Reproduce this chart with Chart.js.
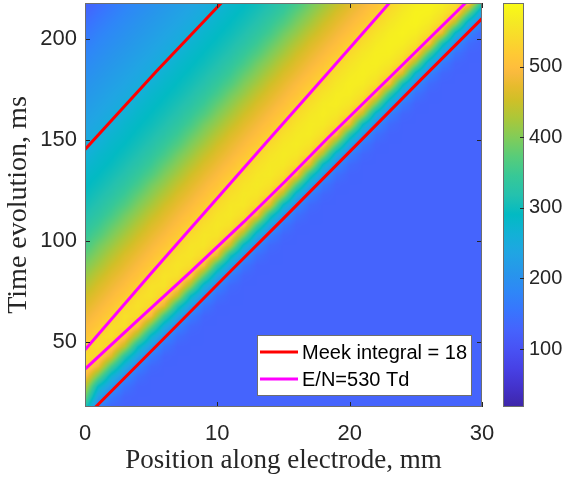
<!DOCTYPE html>
<html>
<head>
<meta charset="utf-8">
<script src="https://cdn.jsdelivr.net/npm/chart.js@4.4.1/dist/chart.umd.min.js"></script>
<style>
  html, body { margin: 0; padding: 0; background: #fff; }
  canvas { display: block; }
</style>
</head>
<body>
<canvas id="fieldChart" width="566" height="480"></canvas>
<script>
// Colour map grid: one row per time, one value (Td) per position
const positionsMm = [0, 1, 2, 3, 4, 5, 6, 7, 8, 9, 10, 11, 12, 13, 14, 15, 16, 17, 18, 19, 20, 21, 22, 23, 24, 25, 26, 27, 28, 29, 30];
const timesMs = [18, 23, 28, 33, 38, 43, 48, 53, 58, 63, 68, 73, 78, 83, 88, 93, 98, 103, 108, 113, 118,
                 123, 128, 133, 138, 143, 148, 153, 158, 163, 168, 173, 178, 183, 188, 193, 198, 203, 208, 213, 218];
const fieldTd = [
  [320, 175, 134, 128, 128, 128, 128, 128, 128, 128, 128, 128, 128, 128, 128, 128, 128, 128, 128, 128, 128, 128, 128, 128, 128, 128, 128, 128, 128, 128, 128],
  [390, 228, 162, 131, 128, 128, 128, 128, 128, 128, 128, 128, 128, 128, 128, 128, 128, 128, 128, 128, 128, 128, 128, 128, 128, 128, 128, 128, 128, 128, 128],
  [445, 286, 211, 151, 129, 128, 128, 128, 128, 128, 128, 128, 128, 128, 128, 128, 128, 128, 128, 128, 128, 128, 128, 128, 128, 128, 128, 128, 128, 128, 128],
  [500, 385, 265, 193, 142, 128, 128, 128, 128, 128, 128, 128, 128, 128, 128, 128, 128, 128, 128, 128, 128, 128, 128, 128, 128, 128, 128, 128, 128, 128, 128],
  [540, 481, 355, 250, 177, 135, 128, 128, 128, 128, 128, 128, 128, 128, 128, 128, 128, 128, 128, 128, 128, 128, 128, 128, 128, 128, 128, 128, 128, 128, 128],
  [545, 531, 461, 327, 232, 163, 131, 128, 128, 128, 128, 128, 128, 128, 128, 128, 128, 128, 128, 128, 128, 128, 128, 128, 128, 128, 128, 128, 128, 128, 128],
  [524, 549, 522, 440, 300, 215, 152, 129, 128, 128, 128, 128, 128, 128, 128, 128, 128, 128, 128, 128, 128, 128, 128, 128, 128, 128, 128, 128, 128, 128, 128],
  [507, 535, 549, 512, 410, 279, 196, 143, 129, 128, 128, 128, 128, 128, 128, 128, 128, 128, 128, 128, 128, 128, 128, 128, 128, 128, 128, 128, 128, 128, 128],
  [494, 515, 544, 547, 500, 380, 257, 180, 136, 128, 128, 128, 128, 128, 128, 128, 128, 128, 128, 128, 128, 128, 128, 128, 128, 128, 128, 128, 128, 128, 128],
  [481, 500, 524, 550, 542, 488, 350, 240, 165, 131, 128, 128, 128, 128, 128, 128, 128, 128, 128, 128, 128, 128, 128, 128, 128, 128, 128, 128, 128, 128, 128],
  [467, 487, 508, 535, 552, 536, 470, 322, 220, 153, 129, 128, 128, 128, 128, 128, 128, 128, 128, 128, 128, 128, 128, 128, 128, 128, 128, 128, 128, 128, 128],
  [452, 474, 494, 515, 543, 554, 531, 445, 293, 200, 144, 129, 128, 128, 128, 128, 128, 128, 128, 128, 128, 128, 128, 128, 128, 128, 128, 128, 128, 128, 128],
  [433, 460, 481, 500, 525, 551, 553, 520, 415, 265, 181, 136, 128, 128, 128, 128, 128, 128, 128, 128, 128, 128, 128, 128, 128, 128, 128, 128, 128, 128, 128],
  [414, 443, 468, 487, 507, 535, 555, 550, 510, 380, 245, 166, 132, 128, 128, 128, 128, 128, 128, 128, 128, 128, 128, 128, 128, 128, 128, 128, 128, 128, 128],
  [396, 423, 452, 474, 494, 516, 544, 557, 546, 492, 340, 225, 154, 129, 128, 128, 128, 128, 128, 128, 128, 128, 128, 128, 128, 128, 128, 128, 128, 128, 128],
  [377, 405, 434, 461, 481, 501, 525, 550, 557, 541, 473, 309, 203, 145, 129, 128, 128, 128, 128, 128, 128, 128, 128, 128, 128, 128, 128, 128, 128, 128, 128],
  [356, 388, 415, 443, 468, 488, 508, 534, 555, 557, 534, 445, 279, 183, 137, 128, 128, 128, 128, 128, 128, 128, 128, 128, 128, 128, 128, 128, 128, 128, 128],
  [341, 366, 396, 424, 452, 475, 494, 516, 543, 558, 555, 524, 405, 252, 168, 133, 128, 128, 128, 128, 128, 128, 128, 128, 128, 128, 128, 128, 128, 128, 128],
  [327, 348, 378, 405, 434, 461, 481, 501, 525, 549, 560, 552, 512, 360, 230, 156, 130, 128, 128, 128, 128, 128, 128, 128, 128, 128, 128, 128, 128, 128, 128],
  [315, 332, 357, 388, 415, 444, 468, 488, 508, 533, 555, 561, 547, 490, 322, 206, 146, 129, 128, 128, 128, 128, 128, 128, 128, 128, 128, 128, 128, 128, 128],
  [305, 320, 341, 366, 397, 424, 453, 475, 494, 516, 542, 559, 560, 541, 461, 286, 185, 138, 128, 128, 128, 128, 128, 128, 128, 128, 128, 128, 128, 128, 128],
  [295, 310, 326, 348, 378, 406, 434, 461, 481, 501, 525, 549, 561, 558, 532, 420, 255, 169, 134, 128, 128, 128, 128, 128, 128, 128, 128, 128, 128, 128, 128],
  [287, 300, 315, 333, 357, 389, 415, 444, 468, 488, 508, 534, 555, 563, 554, 520, 370, 232, 158, 130, 128, 128, 128, 128, 128, 128, 128, 128, 128, 128, 128],
  [280, 291, 305, 320, 341, 366, 397, 424, 453, 475, 494, 516, 542, 559, 563, 549, 498, 327, 209, 147, 129, 128, 128, 128, 128, 128, 128, 128, 128, 128, 128],
  [271, 283, 295, 310, 326, 348, 378, 406, 434, 461, 481, 501, 525, 549, 562, 562, 543, 465, 286, 187, 139, 128, 128, 128, 128, 128, 128, 128, 128, 128, 128],
  [258, 276, 287, 300, 315, 333, 357, 388, 415, 444, 468, 487, 507, 533, 555, 565, 560, 535, 420, 257, 171, 134, 128, 128, 128, 128, 128, 128, 128, 128, 128],
  [247, 264, 280, 291, 305, 320, 341, 366, 397, 424, 453, 475, 494, 515, 541, 560, 566, 556, 520, 380, 235, 159, 130, 128, 128, 128, 128, 128, 128, 128, 128],
  [240, 252, 271, 283, 296, 310, 326, 348, 378, 406, 434, 461, 481, 500, 524, 549, 563, 566, 550, 500, 336, 212, 148, 129, 128, 128, 128, 128, 128, 128, 128],
  [232, 244, 258, 276, 288, 300, 315, 333, 357, 389, 415, 443, 468, 487, 507, 532, 555, 566, 564, 544, 477, 296, 189, 140, 128, 128, 128, 128, 128, 128, 128],
  [225, 236, 248, 264, 280, 292, 305, 320, 341, 366, 397, 424, 452, 474, 494, 515, 541, 560, 568, 561, 536, 440, 265, 172, 134, 128, 128, 128, 128, 128, 128],
  [217, 229, 240, 252, 271, 284, 296, 310, 326, 348, 378, 406, 434, 460, 480, 500, 524, 548, 565, 569, 558, 528, 395, 240, 161, 130, 128, 128, 128, 128, 128],
  [210, 221, 233, 244, 258, 276, 288, 300, 315, 333, 357, 388, 414, 443, 467, 487, 507, 532, 555, 567, 568, 553, 510, 350, 215, 150, 129, 128, 128, 128, 128],
  [203, 214, 225, 236, 248, 265, 280, 292, 305, 320, 341, 366, 397, 423, 452, 474, 494, 515, 538, 560, 570, 567, 548, 490, 309, 191, 141, 128, 128, 128, 128],
  [195, 206, 218, 229, 240, 252, 271, 284, 296, 310, 326, 348, 378, 405, 433, 460, 480, 500, 523, 548, 564, 571, 564, 540, 457, 272, 175, 135, 128, 128, 128],
  [187, 199, 210, 221, 233, 244, 259, 276, 288, 300, 315, 333, 357, 388, 414, 443, 467, 487, 506, 532, 554, 568, 571, 561, 533, 410, 245, 162, 131, 128, 128],
  [178, 191, 203, 214, 225, 236, 248, 265, 280, 292, 305, 320, 341, 366, 396, 423, 452, 474, 493, 513, 540, 560, 571, 571, 557, 520, 365, 220, 151, 129, 128],
  [168, 183, 195, 206, 218, 229, 240, 252, 271, 284, 296, 310, 326, 348, 377, 405, 433, 460, 480, 499, 523, 546, 565, 573, 570, 553, 498, 318, 193, 142, 128],
  [157, 174, 187, 199, 210, 221, 233, 244, 259, 276, 288, 300, 315, 333, 356, 387, 413, 442, 466, 486, 505, 530, 554, 569, 575, 569, 545, 469, 279, 177, 135],
  [146, 163, 178, 191, 203, 214, 225, 236, 248, 265, 280, 292, 305, 320, 341, 365, 395, 422, 451, 473, 492, 512, 538, 559, 572, 577, 565, 536, 425, 250, 163],
  [133, 152, 168, 183, 195, 206, 218, 229, 240, 252, 271, 284, 296, 310, 326, 347, 377, 404, 432, 459, 479, 498, 521, 546, 565, 577, 575, 558, 528, 380, 225],
  [123, 140, 158, 174, 187, 199, 210, 221, 233, 244, 259, 276, 288, 300, 315, 332, 355, 387, 413, 441, 466, 485, 505, 529, 554, 571, 578, 572, 552, 510, 330]
];

// Contour lines, [position mm, time ms]
const meekFront = [[0.8, 18], [6.2, 53.5], [11, 85.2], [15.1, 112], [21, 151], [25.5, 180.8], [30, 210.3]];
const meekTail = [[0, 145.5], [5.4, 184.2], [10.3, 218]];
const en530Lead = [[0, 36.8], [4, 61], [8, 85], [12, 109.6], [15.15, 129.9], [18.35, 151.2], [23, 181], [28.75, 218]];
const en530Trail = [[0, 46.3], [5, 84.2], [14, 151.2], [18.5, 184.5], [23, 218]];

const xTicks = [0, 10, 20, 30];
const yTicks = [50, 100, 150, 200];
const cbTicks = [100, 200, 300, 400, 500];
const cbRange = [18, 590];

if (fieldTd.length !== timesMs.length || fieldTd.some(r => r.length !== positionsMm.length)) {
  throw new Error('field grid size mismatch');
}

// parula colour map
const parulaStops = [
  [0, [62, 38, 168]], [0.0476, [67, 50, 203]], [0.0952, [71, 65, 229]], [0.1429, [72, 82, 244]],
  [0.1905, [69, 99, 253]], [0.2381, [56, 117, 254]], [0.2857, [46, 135, 247]], [0.3333, [39, 150, 235]],
  [0.381, [32, 165, 227]], [0.4286, [18, 177, 214]], [0.4762, [2, 186, 195]], [0.5238, [36, 193, 174]],
  [0.5714, [55, 200, 151]], [0.619, [87, 204, 122]], [0.6667, [129, 204, 89]], [0.7143, [171, 199, 57]],
  [0.7619, [209, 191, 39]], [0.7937, [230, 187, 45]], [0.8254, [248, 186, 61]], [0.8413, [254, 190, 60]],
  [0.873, [254, 201, 52]], [0.9048, [250, 214, 45]], [0.9524, [245, 233, 36]], [1, [249, 251, 21]]
];

function parula(frac) {
  frac = Math.min(1, Math.max(0, frac));
  for (let i = 1; i < parulaStops.length; i++) {
    const [f1, c1] = parulaStops[i];
    if (frac <= f1) {
      const [f0, c0] = parulaStops[i - 1];
      const k = (frac - f0) / (f1 - f0);
      return c0.map((v, j) => Math.round(v + (c1[j] - v) * k));
    }
  }
  return parulaStops[parulaStops.length - 1][1];
}

// cell index and fraction along a grid, like shading interp
function locate(grid, v) {
  let i = 0;
  while (i < grid.length - 2 && v > grid[i + 1]) i++;
  const k = Math.min(1, Math.max(0, (v - grid[i]) / (grid[i + 1] - grid[i])));
  return [i, k];
}

const sans = 'Liberation Sans, Arial, sans-serif';
const serif = 'Liberation Serif, Times New Roman, serif';
const ink = '#262626';

// colour map under the lines
const heatmap = {
  id: 'heatmap',
  beforeDatasetsDraw(chart) {
    const { ctx, chartArea: a, scales: { x, y } } = chart;
    const w = Math.round(a.right - a.left), h = Math.round(a.bottom - a.top);
    const off = document.createElement('canvas');
    off.width = w;
    off.height = h;
    const g = off.getContext('2d');
    const img = g.createImageData(w, h);
    const cols = [];
    for (let c = 0; c < w; c++) cols.push(locate(positionsMm, x.getValueForPixel(a.left + c + 0.5)));
    for (let r = 0; r < h; r++) {
      const [i, ky] = locate(timesMs, y.getValueForPixel(a.top + r + 0.5));
      const lo = fieldTd[i], hi = fieldTd[i + 1];
      for (let c = 0; c < w; c++) {
        const [j, kx] = cols[c];
        const v0 = lo[j] + (lo[j + 1] - lo[j]) * kx;
        const v1 = hi[j] + (hi[j + 1] - hi[j]) * kx;
        const rgb = parula((v0 + (v1 - v0) * ky - cbRange[0]) / (cbRange[1] - cbRange[0]));
        const p = (r * w + c) * 4;
        img.data[p] = rgb[0];
        img.data[p + 1] = rgb[1];
        img.data[p + 2] = rgb[2];
        img.data[p + 3] = 255;
      }
    }
    g.putImageData(img, 0, 0);
    ctx.drawImage(off, a.left, a.top);
  }
};

// box, inward ticks, colour bar and legend
const decor = {
  id: 'decor',
  afterDatasetsDraw(chart) {
    const { ctx, chartArea: a, scales } = chart;
    ctx.save();
    ctx.lineWidth = 1;
    ctx.strokeStyle = ink;
    ctx.beginPath();
    xTicks.forEach(v => {
      const px = Math.round(scales.x.getPixelForValue(v)) + 0.5;
      ctx.moveTo(px, a.bottom); ctx.lineTo(px, a.bottom - 5);
      ctx.moveTo(px, a.top); ctx.lineTo(px, a.top + 5);
    });
    yTicks.forEach(v => {
      const py = Math.round(scales.y.getPixelForValue(v)) + 0.5;
      ctx.moveTo(a.left, py); ctx.lineTo(a.left + 5, py);
      ctx.moveTo(a.right, py); ctx.lineTo(a.right - 5, py);
    });
    ctx.stroke();
    ctx.strokeStyle = '#6e6e6e';
    ctx.strokeRect(a.left + 0.5, a.top + 0.5, a.right - a.left - 1, a.bottom - a.top - 1);

    // colour bar
    const cb = scales.cb;
    const bx = a.right + 21, bw = 21;
    const yTop = cb.getPixelForValue(cbRange[1]), yBot = cb.getPixelForValue(cbRange[0]);
    const grad = ctx.createLinearGradient(0, yBot, 0, yTop);
    parulaStops.forEach(([f, c]) => grad.addColorStop(f, 'rgb(' + c.join(',') + ')'));
    ctx.fillStyle = grad;
    ctx.fillRect(bx, yTop, bw, yBot - yTop);
    ctx.strokeStyle = '#6e6e6e';
    ctx.strokeRect(bx + 0.5, yTop + 0.5, bw - 1, yBot - yTop - 1);
    ctx.strokeStyle = ink;
    ctx.beginPath();
    cbTicks.forEach(v => {
      const py = Math.round(cb.getPixelForValue(v)) + 0.5;
      ctx.moveTo(bx + bw - 4, py); ctx.lineTo(bx + bw, py);
    });
    ctx.stroke();

    // legend, one entry per label
    const entries = [];
    chart.data.datasets.forEach(ds => {
      if (!entries.some(e => e.label === ds.label)) entries.push(ds);
    });
    const lw = 215, lh = 61;
    const lx = a.right - 10 - lw, ly = a.bottom - 11 - lh;
    ctx.fillStyle = '#fff';
    ctx.fillRect(lx, ly, lw, lh);
    ctx.strokeStyle = '#6e6e6e';
    ctx.strokeRect(lx + 0.5, ly + 0.5, lw - 1, lh - 1);
    ctx.font = '20px ' + sans;
    ctx.textBaseline = 'middle';
    ctx.textAlign = 'left';
    entries.forEach((ds, i) => {
      const yy = ly + 17 + i * 27;
      ctx.strokeStyle = ds.borderColor;
      ctx.lineWidth = 3;
      ctx.beginPath();
      ctx.moveTo(lx + 3, yy); ctx.lineTo(lx + 41, yy);
      ctx.stroke();
      ctx.fillStyle = '#000';
      ctx.fillText(ds.label, lx + 45, yy + 1);
    });
    ctx.restore();
  }
};

function contour(points, label, color) {
  return {
    label: label,
    data: points.map(p => ({ x: p[0], y: p[1] })),
    borderColor: color,
    borderWidth: 3,
    showLine: true,
    pointRadius: 0,
    tension: 0,
    clip: 0,
    xAxisID: 'x',
    yAxisID: 'y'
  };
}

// vertical axes must not reserve room above/below for their labels
function noEndPadding(s) {
  s.paddingTop = 0;
  s.paddingBottom = 0;
}

Chart.defaults.font.family = sans;
Chart.defaults.color = ink;

new Chart(document.getElementById('fieldChart'), {
  type: 'scatter',
  data: {
    datasets: [
      contour(meekFront, 'Meek integral = 18', '#ff0000'),
      contour(meekTail, 'Meek integral = 18', '#ff0000'),
      contour(en530Lead, 'E/N=530 Td', '#ff00ff'),
      contour(en530Trail, 'E/N=530 Td', '#ff00ff')
    ]
  },
  options: {
    responsive: false,
    animation: false,
    layout: { padding: { top: 3, left: 0, right: 0, bottom: 0 } },
    plugins: {
      legend: { display: false },
      tooltip: { enabled: false }
    },
    scales: {
      x: {
        type: 'linear',
        min: 0,
        max: 30,
        grid: { display: false, drawTicks: false },
        border: { display: false },
        afterBuildTicks: s => { s.ticks = xTicks.map(v => ({ value: v })); },
        afterFit: s => { s.height = 73; s.paddingLeft = 0; s.paddingRight = 0; },
        ticks: { padding: 14, font: { size: 22 }, color: ink, maxRotation: 0 },
        title: {
          display: true,
          text: 'Position along electrode, mm',
          font: { family: serif, size: 27 },
          color: ink,
          padding: { top: 0, bottom: 3 }
        }
      },
      y: {
        type: 'linear',
        min: 18,
        max: 218,
        grid: { display: false, drawTicks: false },
        border: { display: false },
        afterBuildTicks: s => { s.ticks = yTicks.map(v => ({ value: v })); },
        afterFit: s => { s.width = 85; noEndPadding(s); },
        ticks: { padding: 8, font: { size: 22 }, color: ink },
        title: {
          display: true,
          text: 'Time evolution, ms',
          font: { family: serif, size: 28 },
          color: ink,
          padding: { top: 2, bottom: 0 }
        }
      },
      cb: {
        type: 'linear',
        position: 'right',
        min: cbRange[0],
        max: cbRange[1],
        grid: { display: false, drawTicks: false },
        border: { display: false },
        afterBuildTicks: s => { s.ticks = cbTicks.map(v => ({ value: v })); },
        afterFit: s => { s.width = 84; noEndPadding(s); },
        ticks: { padding: 47, font: { size: 20 }, color: ink }
      }
    }
  },
  plugins: [heatmap, decor]
});
</script>
</body>
</html>
